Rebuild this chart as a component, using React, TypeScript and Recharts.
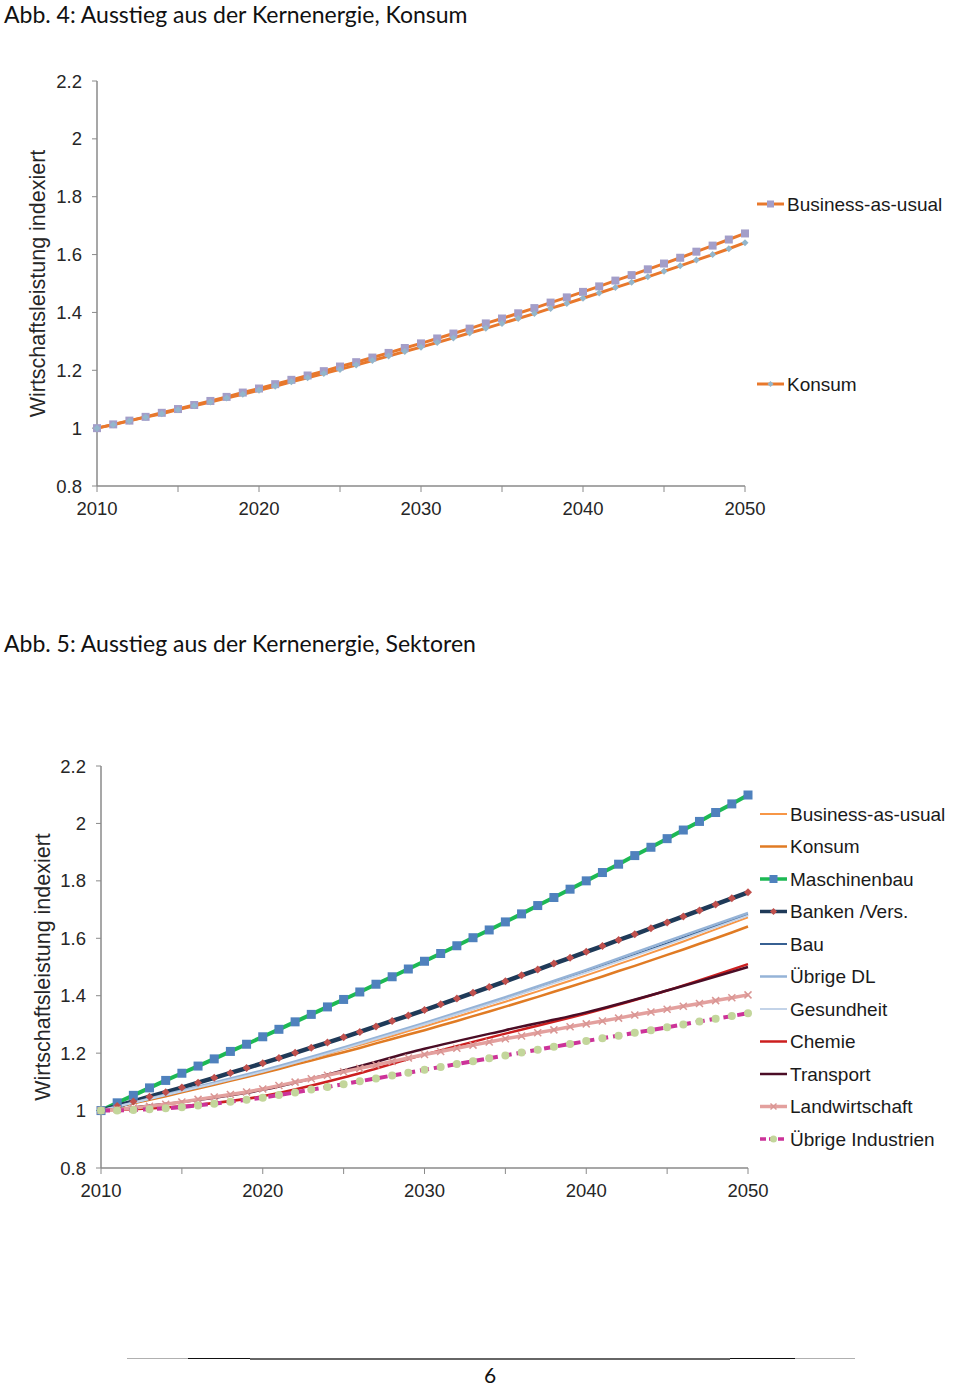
import React from 'react';
import { LineChart, Line, XAxis, YAxis, Legend, Label } from 'recharts';

const years = [
  2010, 2011, 2012, 2013, 2014, 2015, 2016, 2017, 2018, 2019,
  2020, 2021, 2022, 2023, 2024, 2025, 2026, 2027, 2028, 2029,
  2030, 2031, 2032, 2033, 2034, 2035, 2036, 2037, 2038, 2039,
  2040, 2041, 2042, 2043, 2044, 2045, 2046, 2047, 2048, 2049, 2050,
];
const fiveYears = [2010, 2015, 2020, 2025, 2030, 2035, 2040, 2045, 2050];
const xTicks = [2010, 2015, 2020, 2025, 2030, 2035, 2040, 2045, 2050];
const yTicks = [0.8, 1, 1.2, 1.4, 1.6, 1.8, 2, 2.2];

// yearly values
const businessAsUsual = [
  1.000, 1.013, 1.026, 1.039, 1.053, 1.066, 1.080, 1.094, 1.108, 1.123,
  1.137, 1.152, 1.167, 1.182, 1.197, 1.213, 1.228, 1.244, 1.260, 1.277,
  1.293, 1.310, 1.327, 1.344, 1.362, 1.379, 1.397, 1.415, 1.434, 1.452,
  1.471, 1.490, 1.510, 1.529, 1.549, 1.569, 1.589, 1.610, 1.631, 1.652, 1.673,
];
const konsum = [
  1.000, 1.012, 1.025, 1.038, 1.050, 1.064, 1.077, 1.090, 1.104, 1.117,
  1.131, 1.145, 1.160, 1.174, 1.189, 1.203, 1.218, 1.234, 1.249, 1.265,
  1.280, 1.296, 1.312, 1.329, 1.345, 1.362, 1.379, 1.396, 1.414, 1.431,
  1.449, 1.467, 1.486, 1.504, 1.523, 1.542, 1.561, 1.581, 1.600, 1.620, 1.641,
];
const maschinenbau = [
  1.000, 1.027, 1.053, 1.079, 1.105, 1.130, 1.155, 1.180, 1.206, 1.231,
  1.257, 1.283, 1.309, 1.335, 1.361, 1.387, 1.413, 1.440, 1.466, 1.493,
  1.520, 1.547, 1.574, 1.602, 1.629, 1.657, 1.685, 1.714, 1.742, 1.771,
  1.800, 1.829, 1.858, 1.888, 1.917, 1.947, 1.977, 2.007, 2.038, 2.068, 2.099,
];
const banken = [
  1.000, 1.016, 1.032, 1.048, 1.064, 1.080, 1.097, 1.114, 1.131, 1.148,
  1.165, 1.183, 1.201, 1.219, 1.237, 1.255, 1.274, 1.293, 1.312, 1.331,
  1.350, 1.370, 1.390, 1.410, 1.430, 1.450, 1.471, 1.491, 1.512, 1.532,
  1.553, 1.573, 1.594, 1.614, 1.635, 1.655, 1.676, 1.697, 1.718, 1.739, 1.760,
];
const landwirtschaft = [
  1.000, 1.004, 1.009, 1.015, 1.022, 1.030, 1.039, 1.047, 1.056, 1.065,
  1.075, 1.087, 1.099, 1.111, 1.123, 1.135, 1.147, 1.159, 1.171, 1.183,
  1.195, 1.206, 1.217, 1.228, 1.239, 1.250, 1.260, 1.271, 1.281, 1.292,
  1.302, 1.312, 1.322, 1.333, 1.343, 1.353, 1.363, 1.373, 1.383, 1.393, 1.403,
];
const uebrigeIndustrien = [
  1.000, 1.000, 1.002, 1.005, 1.008, 1.012, 1.018, 1.024, 1.031, 1.038,
  1.045, 1.054, 1.063, 1.073, 1.082, 1.092, 1.102, 1.112, 1.122, 1.132,
  1.142, 1.152, 1.162, 1.172, 1.182, 1.192, 1.202, 1.212, 1.222, 1.232,
  1.242, 1.252, 1.261, 1.271, 1.280, 1.290, 1.300, 1.310, 1.320, 1.329, 1.339,
];

// values every five years (lines without markers)
const bauSektor = [1.0, 1.068, 1.137, 1.217, 1.302, 1.39, 1.484, 1.582, 1.683];
const uebrigeDL = [1.0, 1.07, 1.14, 1.22, 1.305, 1.395, 1.49, 1.59, 1.688];
const gesundheit = [1.0, 1.067, 1.135, 1.215, 1.3, 1.388, 1.481, 1.578, 1.679];
const chemie = [1.0, 1.015, 1.05, 1.115, 1.195, 1.268, 1.338, 1.418, 1.51];
const transport = [1.0, 1.03, 1.072, 1.14, 1.215, 1.28, 1.342, 1.418, 1.5];

const rows1 = years.map((year, i) => ({ year, bau: businessAsUsual[i], konsum: konsum[i] }));

const pick = (arr: number[], year: number) => {
  const k = fiveYears.indexOf(year);
  return k >= 0 ? arr[k] : null;
};

const rows2 = years.map((year, i) => ({
  year,
  bau: businessAsUsual[i],
  konsum: konsum[i],
  maschinenbau: maschinenbau[i],
  banken: banken[i],
  bauSektor: pick(bauSektor, year),
  uebrigeDL: pick(uebrigeDL, year),
  gesundheit: pick(gesundheit, year),
  chemie: pick(chemie, year),
  transport: pick(transport, year),
  landwirtschaft: landwirtschaft[i],
  uebrigeIndustrien: uebrigeIndustrien[i],
}));

const AXIS = '#8a8a8a';
const TEXT = '#262626';
const ARIAL = '"Liberation Sans", Arial, sans-serif';
const CALIBRI = 'Lato, "Open Sans", sans-serif';

type S = {
  key: string;
  name: string;
  color: string;
  width: number;
  dash?: string;
  marker?: string;
  markerColor?: string;
  markerSize?: number;
  smooth?: boolean;
};

const series1: S[] = [
  { key: 'bau', name: 'Business-as-usual', color: '#e8782c', width: 3, marker: 'square', markerColor: '#a39ec9', markerSize: 8 },
  { key: 'konsum', name: 'Konsum', color: '#e8782c', width: 3, marker: 'diamond', markerColor: '#93b6cc', markerSize: 7 },
];

const series2: S[] = [
  { key: 'bau', name: 'Business-as-usual', color: '#f79646', width: 2 },
  { key: 'konsum', name: 'Konsum', color: '#e07b24', width: 2.5 },
  { key: 'maschinenbau', name: 'Maschinenbau', color: '#1db954', width: 4, marker: 'square', markerColor: '#4f81bd', markerSize: 9 },
  { key: 'banken', name: 'Banken /Vers.', color: '#1f3a58', width: 4.5, marker: 'diamond', markerColor: '#c0504d', markerSize: 8 },
  { key: 'bauSektor', name: 'Bau', color: '#376092', width: 2, smooth: true },
  { key: 'uebrigeDL', name: 'Übrige DL', color: '#95b3d7', width: 2.5, smooth: true },
  { key: 'gesundheit', name: 'Gesundheit', color: '#c3d3e8', width: 2, smooth: true },
  { key: 'chemie', name: 'Chemie', color: '#cc1f1f', width: 2.5, smooth: true },
  { key: 'transport', name: 'Transport', color: '#4b0d26', width: 2.5, smooth: true },
  { key: 'landwirtschaft', name: 'Landwirtschaft', color: '#e3a09e', width: 3.5, marker: 'cross', markerColor: '#d99694', markerSize: 7 },
  { key: 'uebrigeIndustrien', name: 'Übrige Industrien', color: '#cc3399', width: 4, dash: '9 5', marker: 'circle', markerColor: '#c3d69b', markerSize: 8 },
];

const drawMarker = (kind: string, cx: number, cy: number, color: string, size: number, key?: string) => {
  const h = size / 2;
  if (kind === 'square') return <rect key={key} x={cx - h} y={cy - h} width={size} height={size} fill={color} />;
  if (kind === 'diamond')
    return <polygon key={key} points={`${cx},${cy - h} ${cx + h},${cy} ${cx},${cy + h} ${cx - h},${cy}`} fill={color} />;
  if (kind === 'circle') return <circle key={key} cx={cx} cy={cy} r={h} fill={color} />;
  if (kind === 'cross')
    return (
      <g key={key} stroke={color} strokeWidth={1.5}>
        <line x1={cx - h} y1={cy - h} x2={cx + h} y2={cy + h} />
        <line x1={cx - h} y1={cy + h} x2={cx + h} y2={cy - h} />
      </g>
    );
  return <g key={key} />;
};

const dotFor = (s: S) => {
  if (!s.marker) return false;
  return (p: any) => {
    if (p.cx == null || p.cy == null || p.value == null) return <g key={`e-${p.index}`} />;
    return drawMarker(s.marker!, p.cx, p.cy, s.markerColor!, s.markerSize!, `m-${s.key}-${p.index}`);
  };
};

const YearTick = (props: any) => {
  const { x, y, payload } = props;
  if (payload.value % 10 !== 0) return <g />;
  return (
    <text x={x} y={y} dy={21} textAnchor="middle" fill={TEXT} fontSize={18.5} fontFamily={ARIAL}>
      {payload.value}
    </text>
  );
};

const YLabel = ({ viewBox, dx }: any) => {
  const cx = viewBox.x + dx;
  const cy = viewBox.y + viewBox.height / 2;
  return (
    <text
      x={cx}
      y={cy}
      transform={`rotate(-90 ${cx} ${cy})`}
      textAnchor="middle"
      dominantBaseline="central"
      fill={TEXT}
      fontSize={21.5}
      fontFamily={ARIAL}
    >
      Wirtschaftsleistung indexiert
    </text>
  );
};

const LegendBox = ({ items, tops, width }: { items: S[]; tops: number[]; width: number }) => (
  <svg width={width} height={tops[tops.length - 1] + 20} style={{ display: 'block', overflow: 'visible' }}>
    {items.map((s, i) => (
      <g key={s.key}>
        <line x1={0} y1={tops[i]} x2={27} y2={tops[i]} stroke={s.color} strokeWidth={Math.min(s.width, 3.5)} strokeDasharray={s.dash ? '6 3' : undefined} />
        {s.marker ? drawMarker(s.marker, 13.5, tops[i], s.markerColor!, s.markerSize! - 1) : null}
        <text x={30} y={tops[i]} dominantBaseline="central" fill="#1a1a1a" fontSize={19} fontFamily={ARIAL}>
          {s.name}
        </text>
      </g>
    ))}
  </svg>
);

const legendTops1 = [10, 190];
const legendTops2 = [10, 42.5, 75, 107.5, 140, 172.5, 205, 237.5, 270, 302.5, 335];

const axisProps = {
  stroke: AXIS,
  strokeWidth: 1.5,
};

const titleStyle = {
  position: 'absolute' as const,
  left: 4,
  fontFamily: CALIBRI,
  fontSize: 23,
  lineHeight: '23px',
  color: '#111',
  whiteSpace: 'nowrap' as const,
};

const App = () => {
  return (
    <div style={{ position: 'absolute', left: 0, top: 0, width: 960, height: 1386, background: '#fff', overflow: 'hidden' }}>
      <div style={{ ...titleStyle, top: 3 }}>Abb. 4: Ausstieg aus der Kernenergie, Konsum</div>

      <div style={{ position: 'absolute', left: 0, top: 50 }}>
        <LineChart width={960} height={540} data={rows1} margin={{ top: 31, right: 215, bottom: 74, left: 37 }}>
          <XAxis
            dataKey="year"
            type="number"
            domain={[2010, 2050]}
            ticks={xTicks}
            tick={<YearTick />}
            tickSize={6}
            tickMargin={2}
            height={30}
            axisLine={axisProps}
            tickLine={{ stroke: AXIS }}
          />
          <YAxis
            domain={[0.8, 2.2]}
            ticks={yTicks}
            width={60}
            tickSize={5}
            tickMargin={10}
            axisLine={axisProps}
            tickLine={{ stroke: AXIS }}
            tick={{ fill: TEXT, fontSize: 18.5, fontFamily: ARIAL }}
          >
            <Label content={<YLabel dx={1} />} />
          </YAxis>
          <Legend
            layout="horizontal"
            verticalAlign="middle"
            align="center"
            wrapperStyle={{ left: 757, top: 144, width: 200, height: 220 }}
            content={() => <LegendBox items={series1} tops={legendTops1} width={200} />}
          />
          {series1.map((s) => (
            <Line
              key={s.key}
              dataKey={s.key}
              name={s.name}
              type="linear"
              stroke={s.color}
              strokeWidth={s.width}
              dot={dotFor(s) as any}
              activeDot={false}
              isAnimationActive={false}
            />
          ))}
        </LineChart>
      </div>

      <div style={{ ...titleStyle, top: 632 }}>Abb. 5: Ausstieg aus der Kernenergie, Sektoren</div>

      <div style={{ position: 'absolute', left: 0, top: 730 }}>
        <LineChart width={960} height={500} data={rows2} margin={{ top: 36, right: 212, bottom: 32, left: 41 }}>
          <XAxis
            dataKey="year"
            type="number"
            domain={[2010, 2050]}
            ticks={xTicks}
            tick={<YearTick />}
            tickSize={6}
            tickMargin={2}
            height={30}
            axisLine={axisProps}
            tickLine={{ stroke: AXIS }}
          />
          <YAxis
            domain={[0.8, 2.2]}
            ticks={yTicks}
            width={60}
            tickSize={5}
            tickMargin={10}
            axisLine={axisProps}
            tickLine={{ stroke: AXIS }}
            tick={{ fill: TEXT, fontSize: 18.5, fontFamily: ARIAL }}
          >
            <Label content={<YLabel dx={2} />} />
          </YAxis>
          <Legend
            layout="horizontal"
            verticalAlign="middle"
            align="center"
            wrapperStyle={{ left: 760, top: 74, width: 200, height: 360 }}
            content={() => <LegendBox items={series2} tops={legendTops2} width={200} />}
          />
          {series2.map((s) => (
            <Line
              key={s.key}
              dataKey={s.key}
              name={s.name}
              type={s.smooth ? 'monotone' : 'linear'}
              stroke={s.color}
              strokeWidth={s.width}
              strokeDasharray={s.dash}
              connectNulls
              dot={dotFor(s) as any}
              activeDot={false}
              isAnimationActive={false}
            />
          ))}
        </LineChart>
      </div>

      <div style={{ position: 'absolute', top: 1358, left: 127, width: 61, height: 1, background: '#b0b0b0' }} />
      <div style={{ position: 'absolute', top: 1358, left: 188, width: 62, height: 1, background: '#111' }} />
      <div style={{ position: 'absolute', top: 1358, left: 250, width: 480, height: 2, background: '#666' }} />
      <div style={{ position: 'absolute', top: 1358, left: 730, width: 65, height: 1, background: '#111' }} />
      <div style={{ position: 'absolute', top: 1358, left: 795, width: 60, height: 1, background: '#b0b0b0' }} />
      <div style={{ position: 'absolute', top: 1362, left: 0, width: 980, textAlign: 'center', fontFamily: CALIBRI, fontSize: 21, color: '#111' }}>
        6
      </div>
    </div>
  );
};

export default App;
